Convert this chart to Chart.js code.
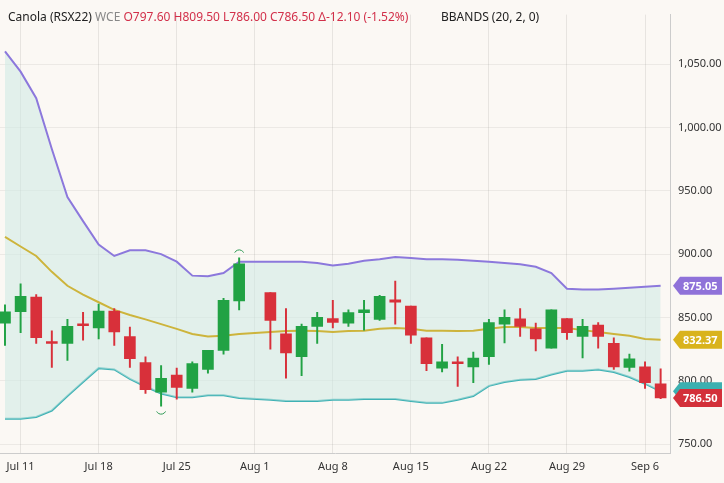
<!DOCTYPE html>
<html><head><meta charset="utf-8">
<script src="https://cdn.jsdelivr.net/npm/chart.js@4"></script>
<style>html,body{margin:0;padding:0;background:#fbf8f4;}#w{width:724px;height:483px;}</style>
</head><body><div id="w"><canvas id="c"></canvas></div>
<script>
const dates=['Jul 8','Jul 11','Jul 12','Jul 13','Jul 14','Jul 15','Jul 18','Jul 19','Jul 20','Jul 21','Jul 22','Jul 25','Jul 26','Jul 27','Jul 28','Jul 29','Aug 1','Aug 2','Aug 3','Aug 4','Aug 5','Aug 8','Aug 9','Aug 10','Aug 11','Aug 12','Aug 15','Aug 16','Aug 17','Aug 18','Aug 19','Aug 22','Aug 23','Aug 24','Aug 25','Aug 26','Aug 29','Aug 30','Aug 31','Sep 1','Sep 2','Sep 6','Sep 7'];
const openV =[845.5,854.5,866,831,829.5,845,841.7,855,835,814.4,791,804.5,794,809,824,863,null,869.7,837,819,843,849.2,845.5,853.8,848.5,864,859,834,810,815,811,819,844.7,849,841,825.8,849.2,835,844,829.5,810.6,811,797.6];
const highV =[860,876.5,868,839.5,848.5,854,860.6,857,842.4,819,812,810,815,824,865,897,null,869.7,857,844.7,854,863.6,856,863.6,867.4,878.8,859,834,828.8,819,822.7,848.5,856,857,845.5,856,849.2,848.5,846,834,821,815,809.5];
const lowV  =[828,838,829.5,810.6,816,832,833,828,810.6,790,780,785.6,791,806,821,856,null,825,802,804,829.5,841.7,843,840,847.7,844.7,829.5,808,807,795.5,798.5,813,830,835,823.5,825.8,832.6,818,825.8,809,807.6,794,786];
const closeV=[854.5,866.7,834,829.5,843,843.5,855,838.6,817.4,793,802,794.7,813.6,824,863.6,892.4,null,847.7,822,843,850,846,853.8,856,866.7,862,836,813.6,815,813.6,818,846,850,843,833,856,838,843,835,811,817.4,798.5,786.5];
const upperV=[1060,1044,1023,983,945,926,907.6,898.5,903,903,900,894,883,882.6,885,894,null,894,894,894,893,891,892.4,894.7,896,897.7,897,896,896,895.5,894.7,894,893,892,890,885,872.7,872,872,872.7,873.5,874.2,875.05];
const middleV=[913.6,906,898.5,886,875,868,862,856,852,848.5,844.7,841,837,835,835.6,837,null,838.6,839.4,839.5,839.4,838.6,839.4,839.5,841,841.7,841,839.5,839.5,839.4,839.5,841,842.4,842.4,841.7,841.7,841.7,840,838.6,837,835.5,833,832.37];
const lowerV=[770,770,771.5,776.5,788,799,810,809,801.5,795.5,790,787,787,788.6,788.6,786.4,null,785,784,784,784,785,785,785.6,785.6,785.6,784,782.6,782.6,785,788,796,799,800.8,801.5,805,808,808,809,807,803,797.7,791.7];
const tickIdx=[1,6,11,16,21,26,31,36,41];
const tickLabels=['Jul 11','Jul 18','Jul 25','Aug 1','Aug 8','Aug 15','Aug 22','Aug 29','Sep 6'];
const yTicks=[750,800,850,900,950,1000,1050];

const GREEN='#21a244',RED='#d8303a';
const idx=dates.map((d,i)=>i);
const wick=idx.filter(i=>openV[i]!==null).map(i=>({x:i,y:[lowV[i],highV[i]]}));
const body=idx.filter(i=>openV[i]!==null).map(i=>({x:i,y:[Math.min(openV[i],closeV[i]),Math.max(openV[i],closeV[i])+(Math.abs(openV[i]-closeV[i])<1?0.8:0)]}));
const colr=idx.filter(i=>openV[i]!==null).map(i=>closeV[i]>=openV[i]?GREEN:RED);
const line=(arr)=>arr.map((v,i)=>({x:i,y:v}));

const deco={id:'deco',afterDraw(ch){
  const c=ch.ctx,x=ch.scales.x,y=ch.scales.y;
  c.save();
  c.strokeStyle='#2e9a55';c.lineWidth=1;
  c.beginPath();c.arc(x.getPixelForValue(10),y.getPixelForValue(lowV[10])+3,5,0.15*Math.PI,0.85*Math.PI);c.stroke();
  c.beginPath();c.arc(x.getPixelForValue(15),y.getPixelForValue(highV[15])-3,5,1.15*Math.PI,1.85*Math.PI);c.stroke();
  const tags=[[lowerV[42],'#3cb0b0',''],[upperV[42],'#8f72d9','875.05'],[middleV[42],'#d9b31c','832.37'],[closeV[42],'#d3303a','786.50']];
  tags.forEach(t=>{const py=y.getPixelForValue(t[0]);const x0=673,x1=722,h=9;
    c.fillStyle=t[1];c.beginPath();c.moveTo(x0,py);c.lineTo(x0+7,py-h);c.lineTo(x1,py-h);c.lineTo(x1,py+h);c.lineTo(x0+7,py+h);c.closePath();c.fill();
    if(t[2]){c.fillStyle='#fff';c.font='bold 11px "Noto Sans"';c.textAlign='left';c.textBaseline='middle';c.fillText(t[2],683,py+1);}
  });
  c.textBaseline='middle';c.textAlign='left';
  let px=8;const parts=[['Canola (RSX22) ','#222'],['WCE ','#888'],['O','#d2304a'],['797.60 ','#d2304a'],['H','#d2304a'],['809.50 ','#d2304a'],['L','#d2304a'],['786.00 ','#d2304a'],['C','#d2304a'],['786.50 ','#d2304a'],['Δ-12.10 (-1.52%)','#d2304a']];
  c.font='12px "Noto Sans"';
  parts.forEach(p=>{c.fillStyle=p[1];c.fillText(p[0],px,18);px+=c.measureText(p[0]).width;});
  c.fillStyle='#222';c.fillText('BBANDS (20, 2, 0)',441,18);
  c.restore();
}};

new Chart(document.getElementById('c'),{
  data:{datasets:[
    {type:'line',data:line(upperV),borderColor:'#8c78dc',borderWidth:2,pointRadius:0,fill:'+1',backgroundColor:'rgba(205,233,228,0.55)',spanGaps:true,order:3},
    {type:'line',data:line(lowerV),borderColor:'#3eb1b4',borderWidth:2,pointRadius:0,fill:false,spanGaps:true,order:3},
    {type:'line',data:line(middleV),borderColor:'#cdb43c',borderWidth:2,pointRadius:0,fill:false,spanGaps:true,order:2},
    {type:'bar',data:wick,backgroundColor:colr,barThickness:1.3,grouped:false,order:1},
    {type:'bar',data:body,backgroundColor:colr,barThickness:11,grouped:false,order:0}
  ]},
  options:{responsive:true,maintainAspectRatio:false,animation:false,
    layout:{padding:{left:0,right:0,top:0,bottom:4}},
    plugins:{legend:{display:false},tooltip:{enabled:false}},
    scales:{
      x:{type:'linear',offset:false,min:-0.32,max:42.6,border:{display:true,color:'#ccc'},
        grid:{offset:false,color:'rgba(0,0,0,0.08)',drawTicks:false,tickLength:0},
        afterBuildTicks(s){s.ticks=tickIdx.map(v=>({value:v}));},
        ticks:{color:'#333',font:{size:11,family:'Noto Sans'},padding:6,autoSkip:false,maxRotation:0,callback:(v)=>tickLabels[tickIdx.indexOf(v)]||''}},
      y:{position:'right',min:742.4,max:1089,border:{display:true,color:'#ccc'},
        grid:{color:'rgba(0,0,0,0.06)',drawTicks:false},
        afterBuildTicks(s){s.ticks=yTicks.map(v=>({value:v}));},
        afterFit(s){s.width=54;},
        ticks:{color:'#333',font:{size:11,family:'Noto Sans'},padding:8,callback:v=>v.toLocaleString('en-US',{minimumFractionDigits:2,maximumFractionDigits:2})}}
    }},
  plugins:[deco]
});
</script></body></html>
